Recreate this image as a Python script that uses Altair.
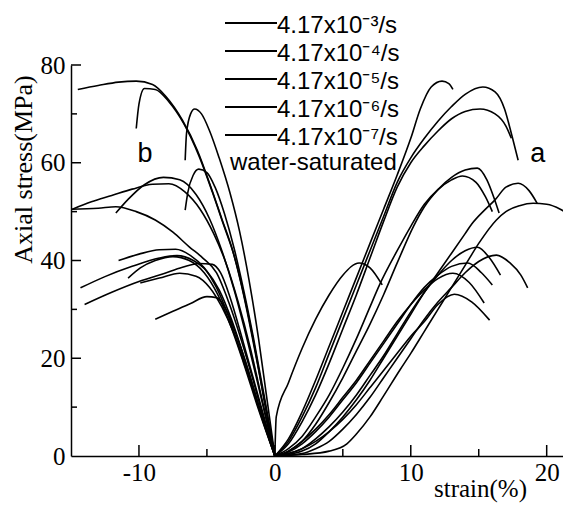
import altair as alt
import pandas as pd

# ---------------- data ----------------
# axial strain curves (right side, "a")
R1 = [(0,0),(1,3.5),(2,9),(3,15.5),(4,22.5),(5,29.5),(6,36.5),(7,43.5),(8,50.5),(9,57.5),(10,65),(10.7,71),(11.5,75.5),(12.3,76.7),(12.8,76.2),(13.1,75)]
R2 = [(0,0),(1,3),(2,8),(3,14),(4,21),(5,28),(6,35),(7,42),(8,49),(9,56),(10,61),(11,65),(12,68.5),(13,71.5),(14,74),(15.3,75.5),(16.2,74.5),(16.9,71),(17.4,66),(17.9,60.5)]
R3 = [(0,0),(1,2.5),(2,7),(3,12.5),(4,19),(5,26),(6,33),(7,40.5),(8,48),(9,55),(10,60),(11,63.5),(12,66.5),(13,69),(14,70.5),(15.1,71),(16.2,70),(17,67.5),(17.4,65)]
E1 = [(0,0),(0.1,8),(1,15),(2,22),(3,28),(4,33),(5,37),(6.2,39.5),(7,38.5),(7.9,35)]
M1 = [(0,0),(1,1),(2,3),(3,6.5),(4,11),(5,16),(6,21.5),(7,27),(8,33),(9,39.5),(10.2,47),(11,51),(12,54.5),(13,57),(14,58.5),(14.9,58.9),(15.6,56.5),(16.1,53),(16.5,49.7)]
M2 = [(0,0),(1,1.5),(2,4),(3,8),(4,12.5),(5,18),(6,24),(7,30.5),(7.7,35),(9,42),(10,47),(11,51.5),(12,54.5),(13,56.5),(13.8,57.3),(14.8,56),(15.5,53),(16,50)]
M3 = [(0,0),(1,0.3),(2,1),(3,2.5),(4,5),(5,8),(6,11.5),(7,15.5),(8,20),(9,24.5),(10,29),(11,33.5),(12,37.5),(13,41.5),(14,45.5),(14.5,47.5),(15.5,50.5),(16.2,52.4),(17,55),(17.9,55.8),(18.7,54.3),(19.3,51.7)]
M4 = [(0,0),(2,0.3),(4,1),(5.3,2.5),(6,4.5),(7,8),(8,12.3),(9.2,17.6),(10,21),(11,25.5),(12,30),(13,34.5),(14,39),(15,43.5),(16.3,48.3),(17,50),(18,51.2),(19,51.7),(20,51.5),(21,50.5),(21.7,49.3)]
L1 = [(0,0),(1,0.5),(2,1.5),(3,3.5),(4,6),(5,9),(6,12.5),(7,16.5),(8,20.5),(9,25),(10,29.5),(11,33.5),(12,37),(13,40),(14,42),(14.9,42.7),(15.8,40.5),(16.6,37)]
L2 = [(0,0),(2,0.5),(3,1.5),(4,3),(5,5.5),(6,8.5),(7,12),(8,16),(9,20),(10,24),(11,28),(12,31.5),(13,34.5),(14,37.5),(15,39.8),(16.3,41.1),(17.3,39.5),(18.1,37),(18.6,34.4)]
L3 = [(0,0),(1,0.8),(2,2.5),(3,5),(4,8),(5,11.5),(6,15),(7,19),(8,23),(9,27),(10,31),(11,34.5),(12,37),(13,38.8),(14.2,39.5),(15.2,37.5),(16,35)]
L4 = [(0,0),(1,1),(2,3),(3,5.5),(4,8.5),(5,12),(6,15.5),(7,19.5),(8,23.5),(9,27.5),(10,31),(11,34),(12,36.3),(13.1,37.4),(14.3,35.5),(15.4,31.3)]
L5 = [(0,0),(1,0.5),(2,1.5),(3,3),(4,5),(5,7.5),(6,10.5),(7,14),(8,17.5),(9,21),(10,24.5),(11,27.5),(12,31),(13.2,33.1),(14.5,31.5),(15.8,27.8)]

# lateral strain curves (left side, "b")
B1 = [(-14.5,75),(-13,75.8),(-11.5,76.5),(-10.2,76.7),(-9,76),(-8,73.5),(-6.8,68.7),(-5.7,62.5),(-4.7,55),(-3.9,48.5),(-3.1,42),(-2.3,33),(-1.5,22),(-0.7,10.5),(0,0)]
B2 = [(-10.2,67),(-10.0,72),(-9.6,75.2),(-8.8,75),(-7.8,72.5),(-6.7,68),(-5.6,61.5),(-4.6,54),(-3.8,47.5),(-3.0,41),(-2.2,32),(-1.4,21),(-0.7,10),(0,0)]
B3 = [(-6.6,60.5),(-6.5,66),(-6.2,70),(-5.9,71),(-5.4,70),(-4.8,66.5),(-4.1,61),(-3.3,53.8),(-2.6,46),(-1.9,36),(-1.2,24),(-0.6,12),(0,0)]
B4 = [(-14.9,50.5),(-13.5,52),(-12,53.3),(-10.5,54.6),(-9,55.6),(-7.8,55.7),(-6.6,54),(-5.5,50.5),(-4.5,45.5),(-3.6,39.5),(-2.7,31.5),(-1.8,22),(-0.9,11),(0,0)]
B5 = [(-11.7,49.7),(-10.8,52.5),(-9.6,55.5),(-8.2,57),(-7,56.5),(-5.8,53.5),(-4.8,48.5),(-3.9,42),(-3,34),(-2.1,24.5),(-1.1,13),(0,0)]
B6 = [(-6.6,50.3),(-6.4,54),(-6.0,57.5),(-5.6,58.7),(-5.0,58),(-4.4,55),(-3.7,49.5),(-3.0,42.5),(-2.3,34),(-1.6,24.5),(-0.8,12.5),(0,0)]
B7 = [(-15,50.5),(-13,50.7),(-11.7,51),(-10.2,50),(-8.8,48.3),(-7.5,45.8),(-6.3,42.8),(-5.3,40.5),(-4.3,37.5),(-3.4,31.5),(-2.5,24),(-1.6,15.5),(-0.8,7.5),(0,0)]
C1 = [(-14.3,34.4),(-12.5,36.7),(-10.5,38.8),(-8.5,40.5),(-7.2,41),(-6,40),(-5,37.8),(-4.1,34),(-3.2,28),(-2.3,20.5),(-1.2,10.5),(0,0)]
C2 = [(-11.5,40),(-10,41.3),(-8.5,42.2),(-7.3,42.3),(-6.2,41),(-5.2,38.5),(-4.3,34.5),(-3.4,28.5),(-2.5,21),(-1.3,11),(0,0)]
C3 = [(-10.8,36.4),(-9.9,38.5),(-8.8,40),(-7.5,40.8),(-6.3,40),(-5.2,37.5),(-4.2,33),(-3.3,27),(-2.3,19),(-1.2,9.5),(0,0)]
C4 = [(-14,31),(-12,33.5),(-10,35.7),(-8.2,37.3),(-6.8,38.6),(-5.6,39.4),(-4.6,39.2),(-4,37.5),(-3.3,32.5),(-2.4,24),(-1.3,13),(0,0)]
C5 = [(-9.9,35.4),(-8.5,36.4),(-7,37.4),(-5.8,36.8),(-4.8,34.5),(-3.9,30.5),(-3,25),(-2.1,18),(-1.1,9),(0,0)]
C6 = [(-8.8,28),(-7.5,29.6),(-6.2,31.2),(-5,32.6),(-4.3,32.4),(-3.6,30),(-2.8,24.5),(-1.9,17),(-1,8.5),(0,0)]

curves = {"R1": R1, "R2": R2, "R3": R3, "E1": E1, "M1": M1, "M2": M2, "M3": M3, "M4": M4,
          "L1": L1, "L2": L2, "L3": L3, "L4": L4, "L5": L5,
          "B1": B1, "B2": B2, "B3": B3, "B4": B4, "B5": B5, "B6": B6, "B7": B7,
          "C1": C1, "C2": C2, "C3": C3, "C4": C4, "C5": C5, "C6": C6}

legend_labels = ["4.17x10\u207b\u00b3/s", "4.17x10\u207b\u2074/s", "4.17x10\u207b\u2075/s",
                 "4.17x10\u207b\u2076/s", "4.17x10\u207b\u2077/s"]
legend_note = "water-saturated"

ann_text = ["b", "a"]
ann_x = [-9.55, 19.35]
ann_y = [60.2, 60.2]

x_major = [-10, 0, 10, 20]
x_minor = [-5, 5, 15]
y_major = [20, 40, 60, 80]
y_minor = [10, 30, 50, 70]
y_labels = [0, 20, 40, 60, 80]

# ---------------- chart ----------------
rows = []
for name, pts in curves.items():
    for i, (x, y) in enumerate(pts):
        rows.append({"curve": name, "i": i, "strain": x, "stress": y})
df = pd.DataFrame(rows)

SERIF = "Liberation Serif"
SANS = "Liberation Sans"

xs = alt.Scale(domain=[-15, 21.2], nice=False, zero=False)
ys = alt.Scale(domain=[0, 80], nice=False, zero=False)

x_axis = alt.Axis(
    values=x_major, labelExpr="'' + datum.value", ticks=False, tickSize=0, grid=False,
    domainColor="black", domainWidth=1.5, labelFont=SERIF, labelFontSize=25, labelColor="black",
    labelPadding=4, titleFont=SERIF, titleFontSize=25, titleFontWeight="normal",
    titleColor="black", titleX=409, titleY=32, titleAlign="center", titleBaseline="middle")
y_axis = alt.Axis(
    values=y_labels, labelExpr="'' + datum.value", ticks=False, tickSize=0, grid=False,
    domainColor="black", domainWidth=1.5, labelFont=SERIF, labelFontSize=25, labelColor="black",
    labelPadding=6, titleFont=SERIF, titleFontSize=26,
    titleFontWeight="normal", titleColor="black", titleX=-48, titleY=104, titleAngle=270,
    titleAlign="center", titleBaseline="middle")
XT = "strain(%)"
YT = "Axial stress(MPa)"

lines = alt.Chart(df).mark_line(color="black", strokeWidth=1.6, clip=False, interpolate="monotone").encode(
    x=alt.X("strain:Q", scale=xs, axis=x_axis, title=XT),
    y=alt.Y("stress:Q", scale=ys, axis=y_axis, title=YT),
    detail="curve:N",
    order="i:Q",
)

xt_major = alt.Chart(pd.DataFrame({"v": x_major})).mark_rule(color="black", strokeWidth=1.5).encode(
    x=alt.X("v:Q", scale=xs, axis=x_axis, title=XT), y=alt.value(391), y2=alt.value(380))
xt_minor = alt.Chart(pd.DataFrame({"v": x_minor})).mark_rule(color="black", strokeWidth=1.5).encode(
    x=alt.X("v:Q", scale=xs, axis=x_axis, title=XT), y=alt.value(391), y2=alt.value(384))
yt_major = alt.Chart(pd.DataFrame({"v": y_major})).mark_rule(color="black", strokeWidth=1.5).encode(
    y=alt.Y("v:Q", scale=ys, axis=y_axis, title=YT), x=alt.value(0), x2=alt.value(10))
yt_minor = alt.Chart(pd.DataFrame({"v": y_minor})).mark_rule(color="black", strokeWidth=1.5).encode(
    y=alt.Y("v:Q", scale=ys, axis=y_axis, title=YT), x=alt.value(0), x2=alt.value(6))

ann = alt.Chart(pd.DataFrame({"t": ann_text, "x": ann_x, "y": ann_y})).mark_text(
    font=SANS, fontSize=27, color="black", align="center", baseline="alphabetic").encode(
    x=alt.X("x:Q", scale=xs, axis=x_axis, title=XT),
    y=alt.Y("y:Q", scale=ys, axis=y_axis, title=YT), text="t:N")

main = alt.layer(lines, xt_major, xt_minor, yt_major, yt_minor, ann)

all_labels = legend_labels + [legend_note]
leg_df = pd.DataFrame({"label": all_labels})
ly = alt.Y("label:N", sort=None, axis=None,
           scale=alt.Scale(type="point", domain=all_labels, range=[-42, 98], padding=0))

leg_rule = alt.Chart(leg_df).transform_filter(
    alt.datum.label != legend_note).mark_rule(color="black", strokeWidth=1.8).encode(
    y=ly, x=alt.value(154), x2=alt.value(206))
leg_text = alt.Chart(leg_df).transform_filter(
    alt.datum.label != legend_note).mark_text(
    font=SANS, fontSize=24, color="black", align="left", baseline="middle", dy=3).encode(
    y=ly, x=alt.value(206), text="label:N")
leg_note = alt.Chart(leg_df).transform_filter(
    alt.datum.label == legend_note).mark_text(
    font=SANS, fontSize=24, color="black", align="left", baseline="middle").encode(
    y=ly, x=alt.value(159), text="label:N")

legend = alt.layer(leg_rule, leg_text, leg_note)

chart = alt.layer(main, legend).resolve_scale(y="independent").properties(
    width=492, height=391,
    autosize=alt.AutoSizeParams(type="none"),
    padding={"left": 63, "top": 57, "right": 0, "bottom": 50},
    background="white",
).configure_view(stroke=None)

chart.save("out.html", embed_options={"renderer": "svg", "actions": False})
